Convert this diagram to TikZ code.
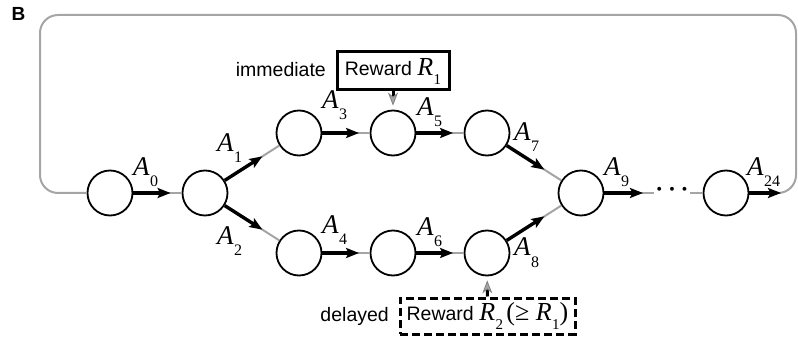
\documentclass[tikz,border=0pt]{standalone}
\usepackage{fontspec}
\setmainfont{Liberation Sans}
\newfontfamily\tms{Liberation Serif}
\usetikzlibrary{arrows.meta}
\newcommand\Alab[1]{{\tms\fontsize{27}{27}\selectfont\itshape A}\kern0.5pt\raisebox{-11pt}{\tms\fontsize{16}{16}\selectfont #1}}
\newcommand\Rlab[1]{{\tms\fontsize{26}{26}\selectfont\itshape R}\kern0.5pt\raisebox{-9pt}{\tms\fontsize{15}{15}\selectfont #1}}
\definecolor{lgray}{RGB}{165,165,165}
\begin{document}
\begin{tikzpicture}[x=1pt,y=-1pt,
  st/.style={circle,draw=black,line width=1.8pt,fill=white,minimum size=45pt,inner sep=0},
  glink/.style={draw=lgray,line width=2pt},
  blk/.style={draw=black,line width=3.4pt,-{Stealth[length=13pt,width=10pt,inset=2.5pt]}},
  lab/.style={anchor=base west,inner sep=0},
  rew/.style={draw=black,line width=3pt,shorten >=4pt,
    -{Stealth[length=13pt,width=10pt,inset=4pt,fill=lgray,color=gray,line width=0.8pt]}},
  txt/.style={font=\fontsize{19.5}{19.5}\selectfont,inner sep=0}]
\useasboundingbox (0,0) rectangle (798,339);
% panel letter
\node[font=\bfseries\fontsize{19}{19}\selectfont,inner sep=0] (B) at (18.5,14) {B};
% states
\node[st] (n0) at (110,193) {};
\node[st] (n1) at (205,193) {};
\node[st] (n3) at (299,133) {};
\node[st] (n5) at (393,133) {};
\node[st] (n7) at (487,133) {};
\node[st] (n4) at (299,253) {};
\node[st] (n6) at (393,253) {};
\node[st] (n8) at (487,253) {};
\node[st] (n9) at (581,193) {};
\node[st] (n24) at (726,193) {};
\node[inner sep=0,minimum width=36pt,text height=0.5em,text depth=0pt,font=\fontsize{24}{24}\selectfont\boldmath] (dots) at (672,193) {$\cdots$};
\coordinate (t9) at (643,193);
\coordinate (t24) at (781,193);
% loop frame
\draw[glink,rounded corners=18pt] (n24.east) -- (796,193) -- (796,15) -- (40,15) -- (40,193) -- (n0.west);
% gray links
\draw[glink] (n0) -- (n1);
\draw[glink] (n1) -- (n3);
\draw[glink] (n1) -- (n4);
\draw[glink] (n3) -- (n5);
\draw[glink] (n5) -- (n7);
\draw[glink] (n4) -- (n6);
\draw[glink] (n6) -- (n8);
\draw[glink] (n7) -- (n9);
\draw[glink] (n8) -- (n9);
\draw[glink] (n9) -- (dots.west);
\draw[glink] (dots.east) -- (n24);
% action arrows
\draw[blk,shorten >=11pt] (n0) -- (n1);
\draw[blk,shorten >=20pt] (n1) -- (n3);
\draw[blk,shorten >=20pt] (n1) -- (n4);
\draw[blk,shorten >=10.5pt] (n3) -- (n5);
\draw[blk,shorten >=10.5pt] (n5) -- (n7);
\draw[blk,shorten >=10.5pt] (n4) -- (n6);
\draw[blk,shorten >=10.5pt] (n6) -- (n8);
\draw[blk,shorten >=20pt] (n7) -- (n9);
\draw[blk,shorten >=20pt] (n8) -- (n9);
\draw[blk] (n9) -- (t9);
\draw[blk] (n24) -- (t24);
% action labels
\node[lab] (a0) at (133,176) {\Alab{0}};
\node[lab] (a1) at (217,152) {\Alab{1}};
\node[lab] (a2) at (217,244) {\Alab{2}};
\node[lab] (a3) at (322,109) {\Alab{3}};
\node[lab] (a4) at (322,234) {\Alab{4}};
\node[lab] (a5) at (417,116) {\Alab{5}};
\node[lab] (a6) at (417,236) {\Alab{6}};
\node[lab] (a7) at (514,141) {\Alab{7}};
\node[lab] (a8) at (514,256) {\Alab{8}};
\node[lab] (a9) at (604,176) {\Alab{9}};
\node[lab] (a24) at (747,176) {\Alab{24}};
% rewards
\node[draw=black,line width=3pt,minimum width=112pt,minimum height=38pt,inner sep=2pt,font=\fontsize{19.5}{19.5}\selectfont] (r1) at (393,71) {Reward \Rlab{1}};
\node[txt,anchor=east] (imm) at (326,70) {immediate};
\node[draw=black,line width=3pt,dash pattern=on 8pt off 4pt,minimum width=175pt,minimum height=36pt,inner sep=2pt,font=\fontsize{19.5}{19.5}\selectfont] (r2) at (487.5,316) {Reward \Rlab{2}\,{\tms\fontsize{26}{26}\selectfont(≥ }\Rlab{1}{\tms\fontsize{26}{26}\selectfont)}};
\node[txt,anchor=east] (del) at (389,316) {delayed};
\draw[rew] (r1) -- (n5);
\draw[rew] (r2) -- (n8);
\end{tikzpicture}
\end{document}
